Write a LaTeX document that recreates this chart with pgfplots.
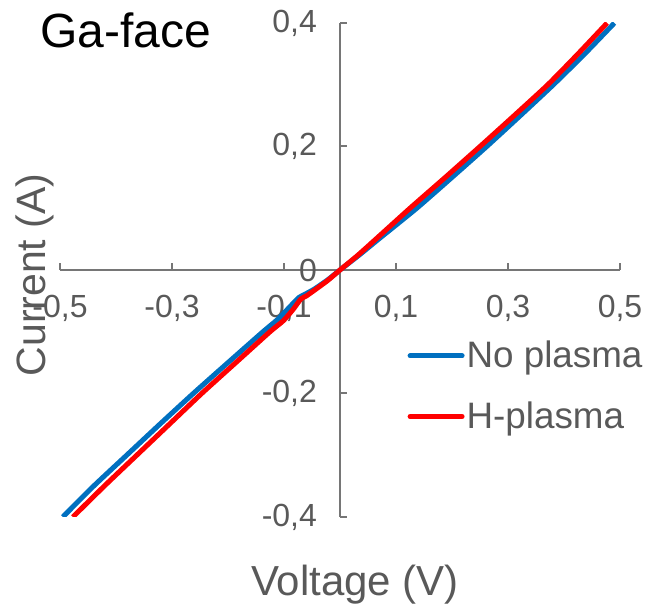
\documentclass[border=0pt]{standalone}
\usepackage{fontspec}
\setmainfont{Liberation Sans}
\usepackage{pgfplots}
\pgfplotsset{compat=1.18}
\definecolor{blueNo}{RGB}{0,112,192}
\definecolor{redH}{RGB}{255,0,0}
\definecolor{txtgray}{RGB}{89,89,89}
\definecolor{axgray}{RGB}{118,118,118}
\begin{document}
\begin{tikzpicture}
\begin{axis}[
  name=ax,
  scale only axis,
  width=280pt, height=247pt,
  xmin=-0.5, xmax=0.5, ymin=-0.4, ymax=0.4,
  axis lines=middle,
  axis line style={-, draw=axgray, line width=1pt},
  xtick={-0.5,-0.3,-0.1,0.1,0.3,0.5},
  xticklabels={{-0,5},{-0,3},{-0,1},{0,1},{0,3},{0,5}},
  ytick={-0.4,-0.2,0,0.2,0.4},
  yticklabels={{-0,4},{-0,2},{0},{0,2},{0,4}},
  hide obscured y ticks=false,
  hide obscured x ticks=false,
  tick align=inside,
  major tick length=3.5pt,
  tick style={draw=axgray, line width=1pt},
  ticklabel style={font=\fontsize{16}{16}\selectfont, text=txtgray},
  xticklabel style={yshift=-9pt},
  yticklabel style={xshift=-8pt},
  legend style={draw=none, fill=none, at={(rel axis cs:0.62,0.361)}, anchor=north west,
    font=\fontsize{18.4}{18.4}\selectfont, text=txtgray, row sep=13.5pt, inner sep=0pt,
    nodes={inner sep=1pt}},
  legend cell align=left,
  legend image code/.code={\draw[#1, line cap=round] (0pt,0pt) -- (26pt,0pt);},
]
\addplot[blueNo, line width=2.5pt, smooth, tension=0.35, line join=round] coordinates {
(-0.495,-0.4) (-0.44,-0.35) (-0.381,-0.3) (-0.322,-0.25) (-0.262,-0.2) (-0.2,-0.15)
(-0.1375,-0.1) (-0.11,-0.079) (-0.09,-0.06) (-0.074,-0.045) (-0.064,-0.04) (-0.046,-0.031)
(-0.022,-0.016) (0,0) (0.034,0.024) (0.069,0.05) (0.137,0.1) (0.2,0.15) (0.262,0.2) (0.322,0.25)
(0.381,0.3) (0.437,0.35) (0.49,0.4)
};
\addlegendentry{No plasma}
\addplot[redH, line width=2.5pt, smooth, tension=0.35, line join=round] coordinates {
(-0.477,-0.4) (-0.421,-0.35) (-0.363,-0.3) (-0.305,-0.25) (-0.247,-0.2) (-0.186,-0.15)
(-0.125,-0.1) (-0.101,-0.082) (-0.083,-0.063) (-0.07,-0.047) (-0.06,-0.042) (-0.046,-0.033)
(-0.022,-0.017) (0,0) (0.032,0.024) (0.064,0.05) (0.125,0.1) (0.188,0.15) (0.25,0.2) (0.311,0.25)
(0.371,0.3) (0.425,0.35) (0.477,0.4)
};
\addlegendentry{H-plasma}
\end{axis}
\node[text=black, font=\fontsize{24}{24}\selectfont] at ([shift={(33pt,243.5pt)}]ax.south west) {Ga-face};
\node[text=txtgray, font=\fontsize{20.5}{20.5}\selectfont, rotate=90] at ([shift={(-12.5pt,121pt)}]ax.south west) {Current (A)};
\node[text=txtgray, font=\fontsize{21}{21}\selectfont] at ([shift={(147.5pt,-34pt)}]ax.south west) {Voltage (V)};
\pgfresetboundingbox
\path[use as bounding box] ([shift={(-30pt,-48.5pt)}]ax.south west) rectangle ([shift={(14pt,11.5pt)}]ax.north east);
\end{tikzpicture}
\end{document}
